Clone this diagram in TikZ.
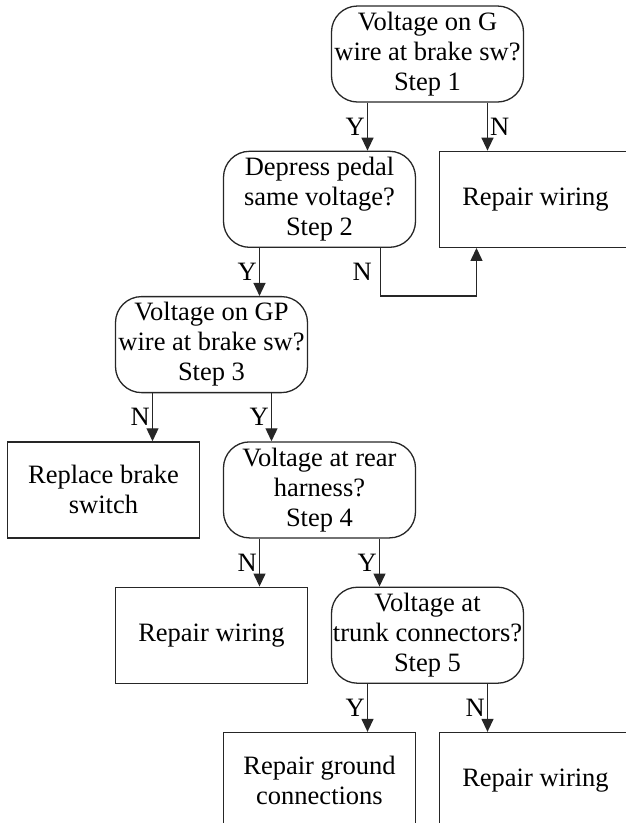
\documentclass[tikz,border=0pt]{standalone}
\usepackage{fontspec}
\setmainfont{Liberation Serif}
\usetikzlibrary{arrows.meta,positioning}
\tikzset{
  stepbox/.style={draw=black!85, line width=1.3pt, rounded corners=26pt, minimum width=192pt, inner xsep=0pt, minimum height=96pt, align=center, font=\fontsize{26.5}{30}\selectfont},
  fixbox/.style={draw=black!85, line width=1.3pt, minimum width=192pt, inner xsep=0pt, minimum height=96pt, align=center, font=\fontsize{26.5}{30}\selectfont},
  flow/.style={-{Triangle[length=13pt, width=12pt]}, line width=1.3pt, draw=black!85},
  yn/.style={font=\fontsize{26.5}{30}\selectfont, inner sep=2pt}
}
\begin{document}
\begin{tikzpicture}[node distance=48pt]
  \useasboundingbox (0,0) rectangle (626pt,-823pt);
  \clip (0,0) rectangle (626pt,-823pt);

  \node[stepbox] (s1) at (427.5pt,-54pt) {Voltage on G\\wire at brake sw?\\Step 1};
  \node[stepbox, below=of s1, xshift=-108pt] (s2) {Depress pedal\\same voltage?\\Step 2};
  \node[fixbox, below=of s1, xshift=108pt] (rw1) {Repair wiring};
  \node[stepbox, below=of s2, xshift=-108pt] (s3) {Voltage on GP\\wire at brake sw?\\Step 3};
  \node[fixbox, below=of s3, xshift=-108pt] (repl) {Replace brake\\switch};
  \node[stepbox, below=of s3, xshift=108pt] (s4) {Voltage at rear\\harness?\\Step 4};
  \node[fixbox, below=of s4, xshift=-108pt] (rw2) {Repair wiring};
  \node[stepbox, below=of s4, xshift=108pt] (s5) {Voltage at\\trunk connectors?\\Step 5};
  \node[fixbox, below=of s5, xshift=-108pt] (gnd) {Repair ground\\connections};
  \node[fixbox, below=of s5, xshift=108pt] (rw3) {Repair wiring};

  \draw[flow] ([xshift=-60pt]s1.south) -- ([xshift=-60pt]s1.south |- s2.north) node[yn, midway, left] {Y};
  \draw[flow] ([xshift=60pt]s1.south) -- ([xshift=60pt]s1.south |- rw1.north) node[yn, midway, right] {N};
  \draw[flow] ([xshift=-60pt]s2.south) -- ([xshift=-60pt]s2.south |- s3.north) node[yn, midway, left] {Y};
  \draw[flow] ([xshift=61pt]s2.south) -- ++(0,-48pt) node[yn, midway, left=6pt] {N} -| ([xshift=-59pt]rw1.south);
  \draw[flow] ([xshift=-59pt]s3.south) -- ([xshift=-59pt]s3.south |- repl.north) node[yn, midway, left] {N};
  \draw[flow] ([xshift=60pt]s3.south) -- ([xshift=60pt]s3.south |- s4.north) node[yn, midway, left] {Y};
  \draw[flow] ([xshift=-60pt]s4.south) -- ([xshift=-60pt]s4.south |- rw2.north) node[yn, midway, left] {N};
  \draw[flow] ([xshift=60pt]s4.south) -- ([xshift=60pt]s4.south |- s5.north) node[yn, midway, left] {Y};
  \draw[flow] ([xshift=-60pt]s5.south) -- ([xshift=-60pt]s5.south |- gnd.north) node[yn, midway, left] {Y};
  \draw[flow] ([xshift=60pt]s5.south) -- ([xshift=60pt]s5.south |- rw3.north) node[yn, midway, left] {N};
\end{tikzpicture}
\end{document}
